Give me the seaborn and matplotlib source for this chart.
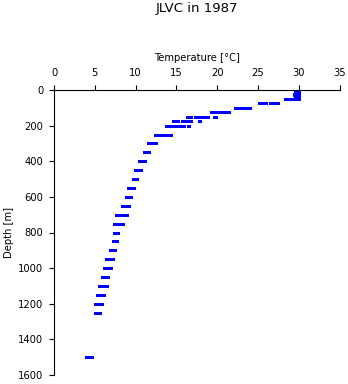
import matplotlib
matplotlib.use("Agg")
import matplotlib.pyplot as plt
import seaborn as sns
import pandas as pd

# Depth levels [m] and the temperatures [°C] observed at each level
depths = [0, 5, 10, 15, 20, 25, 30, 35, 40, 50, 75, 100, 125, 150, 175, 200,
          250, 300, 350, 400, 450, 500, 550, 600, 650, 700, 750, 800, 850,
          900, 950, 1000, 1050, 1100, 1150, 1200, 1250, 1500]
temps = [
    [29.8, 30.0],
    [29.8, 30.0],
    [29.7, 29.95],
    [29.8, 30.0],
    [29.6, 29.9],
    [29.7, 29.95],
    [29.6, 29.9],
    [29.8, 30.0],
    [29.7, 29.95],
    [28.4, 28.7, 29.0, 29.3, 29.6, 29.9, 30.0],
    [25.2, 25.5, 26.0, 26.55, 26.8, 27.1, 27.4],
    [22.3, 22.6, 22.9, 23.2, 23.5, 23.8, 24.0],
    [19.4, 19.7, 20.0, 20.3, 20.6, 20.9, 21.2, 21.4],
    [16.45, 16.75, 17.45, 17.95, 18.2, 18.5, 18.9, 19.7, 19.85],
    [14.65, 15.25, 15.8, 16.1, 16.4, 16.7, 16.85, 17.95],
    [13.9, 14.1, 14.55, 14.85, 15.15, 15.5, 15.95, 16.5],
    [12.45, 12.75, 13.05, 13.35, 13.65, 13.95, 14.25, 14.4],
    [11.7, 12.0, 12.25, 12.45],
    [11.1, 11.4, 11.7],
    [10.6, 10.9, 11.2],
    [10.1, 10.4, 10.65],
    [9.75, 10.0, 10.2],
    [9.25, 9.5, 9.75],
    [8.9, 9.15, 9.4],
    [8.5, 8.8, 9.05, 9.25],
    [7.75, 8.05, 8.3, 8.6, 8.9],
    [7.5, 7.8, 8.1, 8.4],
    [7.5, 7.75, 7.9],
    [7.3, 7.55, 7.7],
    [6.95, 7.2, 7.45],
    [6.55, 6.85, 7.2],
    [6.3, 6.6, 6.95],
    [5.95, 6.3, 6.6],
    [5.7, 6.0, 6.25, 6.45],
    [5.45, 5.75, 6.1],
    [5.2, 5.5, 5.85],
    [5.1, 5.35, 5.6],
    [4.0, 4.3, 4.6],
]
x_ticks = [0, 5, 10, 15, 20, 25, 30, 35]
y_ticks = [0, 200, 400, 600, 800, 1000, 1200, 1400, 1600]
title = "JLVC in 1987"
x_label = "Temperature [°C]"
y_label = "Depth [m]"

rows = [(d, t) for d, ts in zip(depths, temps) for t in ts]
df = pd.DataFrame(rows, columns=["depth", "temp"])

sns.set_style("ticks")
plt.rcParams["font.family"] = ["DejaVu Sans"]
plt.rcParams["text.color"] = "black"
plt.rcParams["axes.labelcolor"] = "black"

fig = plt.figure(figsize=(3.48, 3.84), dpi=100)
ax = fig.add_axes([54 / 348, 1 - 375 / 384, 285.5 / 348, 285 / 384])

# short horizontal rectangle marker (wider than tall)
rect_marker = [(-1.0, -0.72), (1.0, -0.72), (1.0, 0.72), (-1.0, 0.72), (-1.0, -0.72)]
sns.scatterplot(data=df, x="temp", y="depth", marker=rect_marker, s=9,
                color="#0000FF", linewidth=0, ax=ax, legend=False)

ax.set_xlim(0, 35)
ax.set_ylim(1600, 0)
ax.set_xticks(x_ticks)
ax.set_yticks(y_ticks)
ax.xaxis.tick_top()
ax.xaxis.set_label_position("top")
for side in ["right", "bottom"]:
    ax.spines[side].set_visible(False)
for side in ["top", "left"]:
    ax.spines[side].set_linewidth(0.8)
    ax.spines[side].set_color("black")
ax.tick_params(axis="x", direction="out", length=3.6, width=0.8, pad=5,
               labelsize=7.2, colors="black")
ax.tick_params(axis="y", direction="out", length=3.6, width=0.8, pad=4,
               labelsize=7.2, colors="black")
ax.set_xlabel(x_label, fontsize=7.2, labelpad=5, color="black")
ax.set_ylabel(y_label, fontsize=7.2, labelpad=3, color="black")

fig.text(197 / 348, 1 - 8.5 / 384, title, ha="center", va="center",
         fontsize=9.5, color="black")

fig.savefig("out.png", dpi=100, facecolor="white")
